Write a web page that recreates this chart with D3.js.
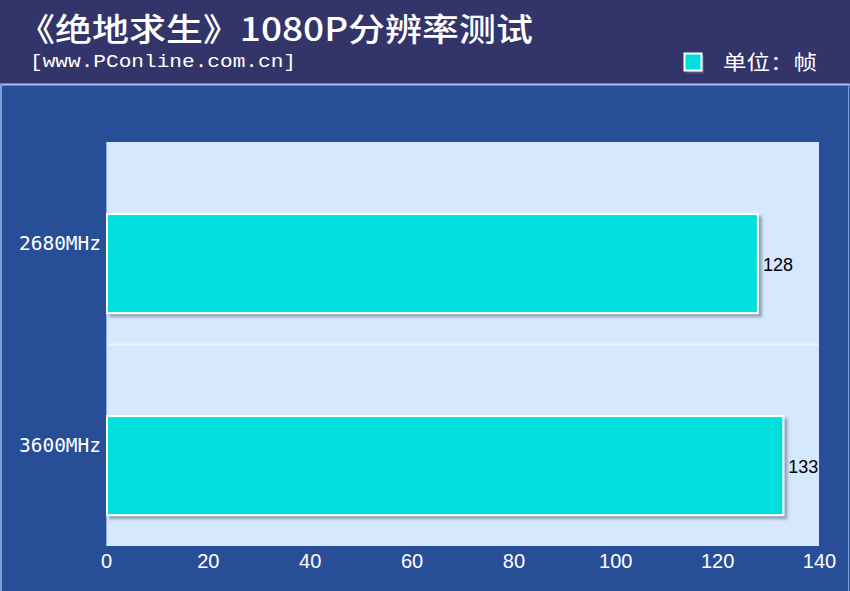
<!DOCTYPE html>
<html><head><meta charset="utf-8">
<script src="https://cdn.jsdelivr.net/npm/d3@7"></script>
<style>body{margin:0;background:#284e98;}svg{display:block;}</style>
</head><body>
<script>
const categories = ["2680MHz", "3600MHz"];
const values = [128, 133];
const tickValues = [0, 20, 40, 60, 80, 100, 120, 140];
const title = "《绝地求生》1080P分辨率测试";
const subtitle = "[www.PConline.com.cn]";
const legendLabel = "单位：帧";

const W = 850, H = 591;
const svg = d3.select("body").append("svg").attr("width", W).attr("height", H);
const defs = svg.append("defs");
const f = defs.append("filter").attr("id","sh").attr("x","-5%").attr("y","-5%").attr("width","115%").attr("height","125%");
f.append("feDropShadow").attr("dx",3).attr("dy",3).attr("stdDeviation",1.5).attr("flood-color","#5a6e90").attr("flood-opacity",0.6);

// header
svg.append("rect").attr("x",0).attr("y",0).attr("width",W).attr("height",84).attr("fill","#33346a");
svg.append("rect").attr("x",0).attr("y",84).attr("width",W).attr("height",H-84).attr("fill","#284e98");
svg.append("line").attr("x1",0).attr("x2",W).attr("y1",84.5).attr("y2",84.5).attr("stroke","#a8c4ee").attr("stroke-width",2);
svg.append("line").attr("x1",1).attr("x2",1).attr("y1",84).attr("y2",H).attr("stroke","#7e9ed8").attr("stroke-width",2);
svg.append("line").attr("x1",848.5).attr("x2",848.5).attr("y1",84).attr("y2",H).attr("stroke","#7e9ed8").attr("stroke-width",1);

const cjk = "'Noto Sans CJK SC', sans-serif";
svg.append("text").attr("x",18).attr("y",41).attr("fill","#fff").attr("font-weight",500)
  .attr("font-family",cjk).attr("font-size",32).attr("textLength",515).attr("lengthAdjust","spacingAndGlyphs").text(title);
svg.append("text").attr("x",30).attr("y",67).attr("fill","#fff")
  .attr("font-family","'Liberation Mono', monospace").attr("font-size",19).attr("textLength",266).attr("lengthAdjust","spacingAndGlyphs").text(subtitle);

// legend
svg.append("rect").attr("x",684.5).attr("y",53.5).attr("width",17).attr("height",17)
  .attr("fill","#00dede").attr("stroke","#fff").attr("stroke-width",2).attr("filter","url(#sh)");
svg.append("text").attr("x",723).attr("y",70).attr("fill","#fff").attr("font-family",cjk).attr("font-size",20)
  .attr("textLength",94).attr("lengthAdjust","spacingAndGlyphs").text(legendLabel);

// plot
const m = {l:106, r:819, t:142, b:546};
const x = d3.scaleLinear().domain([0, 140]).range([m.l, m.r]);
const y = d3.scaleBand().domain(categories).range([m.t, m.b]);
svg.append("rect").attr("x",m.l).attr("y",m.t).attr("width",m.r-m.l).attr("height",m.b-m.t).attr("fill","#d6e8fd");
categories.slice(1).forEach(c => {
  svg.append("line").attr("x1",m.l).attr("x2",m.r).attr("y1",y(c)+0.5).attr("y2",y(c)+0.5).attr("stroke","#eaf3ff").attr("stroke-width",2);
});
svg.append("line").attr("x1",m.l+0.5).attr("x2",m.l+0.5).attr("y1",m.t).attr("y2",m.b).attr("stroke","#8fb0e0");

const barH = y.bandwidth()*0.49;
const barOff = y.bandwidth()*0.357;
svg.selectAll("rect.bar").data(values).join("rect").attr("class","bar")
  .attr("x", x(0)+1)
  .attr("y", (d,i)=> y(categories[i]) + barOff)
  .attr("width", d => x(d)-x(0)-1)
  .attr("height", barH)
  .attr("fill","#00dede").attr("stroke","#fff").attr("stroke-width",2).attr("filter","url(#sh)");

svg.selectAll("text.val").data(values).join("text").attr("class","val")
  .attr("x", d => x(d)+5)
  .attr("y", (d,i)=> y(categories[i]) + barOff + barH/2 + 7)
  .attr("fill","#000").attr("font-family","'Liberation Sans', Arial, sans-serif").attr("font-size",18).text(d=>d);

// axes
const xa = svg.append("g").attr("transform",`translate(0,${m.b})`).call(d3.axisBottom(x).tickValues(tickValues).tickSize(0).tickPadding(8));
xa.select(".domain").remove();
xa.selectAll("text").attr("fill","#fff").attr("font-family","'Liberation Sans', Arial, sans-serif").attr("font-size",20);

const ya = svg.append("g").attr("transform",`translate(${m.l},0)`).call(d3.axisLeft(y).tickSize(0).tickPadding(5));
ya.select(".domain").remove();
ya.selectAll("text").attr("fill","#fff").attr("font-family","'DejaVu Sans Mono', monospace").attr("font-size",19)
  .attr("textLength",82).attr("lengthAdjust","spacingAndGlyphs").attr("dy","0.35em");
</script>
</body></html>
